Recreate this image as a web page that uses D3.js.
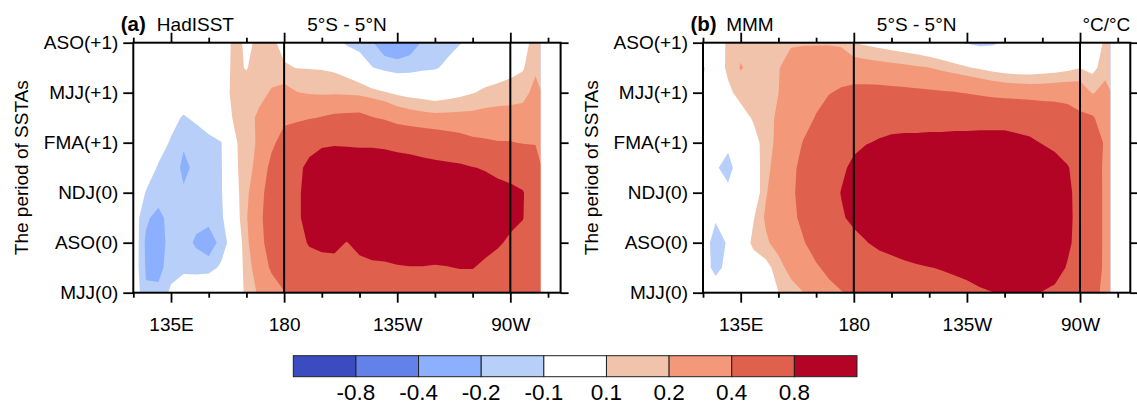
<!DOCTYPE html>
<html>
<head>
<meta charset="utf-8">
<script src="https://cdn.jsdelivr.net/npm/d3@7"></script>
<style>
	body { margin: 0; background: #fff; }
	text { font-family: "Liberation Sans", Arial, Helvetica, sans-serif; }
</style>
</head>
<body>
<svg width="1137" height="405"></svg>
<script>
// grid longitudes (degrees east) and months after MJJ(0) for each grid row (top row first)
const lons = [120, 125, 130, 135, 140, 145, 150, 155, 160, 165, 170, 175, 180, 185, 190, 195, 200,
	205, 210, 215, 220, 225, 230, 235, 240, 245, 250, 255, 260, 265, 270, 275, 280];
const months = [15, 13.5, 12, 10.5, 9, 7.5, 6, 4.5, 3, 1.5, 0];

const periodTicks = [0, 3, 6, 9, 12, 15];
const periodLabels = ['MJJ(0)', 'ASO(0)', 'NDJ(0)', 'FMA(+1)', 'MJJ(+1)', 'ASO(+1)'];
const lonTicks = [135, 180, 225, 270];
const lonLabels = ['135E', '180', '135W', '90W'];
const lonMinor = [120, 150, 165, 195, 210, 240, 255, 285];

const levels = [-0.8, -0.4, -0.2, -0.1, 0.1, 0.2, 0.4, 0.8];
const colors = ['#3b4cc0', '#6282ea', '#8db0fe', '#b8d0f9', '#ffffff', '#f2c3ab', '#f4987a', '#de604d', '#b40426'];

// regression of SSTA onto the index, rows ASO(+1) -> MJJ(0)
const hadisst = [
	[0, 0, 0, 0, 0, 0, 0, 0.04, 0.12, 0.09, 0.11, 0.12, 0.07, 0.04, 0.02, 0, -0.05, -0.12, -0.16, -0.19, -0.28, -0.3, -0.26, -0.19, -0.16, -0.13, -0.105, -0.04, -0.01, 0.01, 0.03, 0.07, 0.13],
	[0, 0, 0, 0, 0, 0, 0, 0.05, 0.12, 0.095, 0.14, 0.16, 0.11, 0.098, 0.095, 0.092, 0.08, 0.05, 0, -0.095, -0.13, -0.15, -0.14, -0.12, -0.11, -0.08, -0.04, 0, 0.03, 0.05, 0.07, 0.09, 0.18],
	[0, 0, -0.01, -0.02, -0.03, -0.02, 0, 0.06, 0.12, 0.14, 0.17, 0.21, 0.25, 0.205, 0.19, 0.18, 0.183, 0.178, 0.167, 0.14, 0.11, 0.08, 0.06, 0.05, 0.03, 0.05, 0.07, 0.095, 0.12, 0.13, 0.14, 0.16, 0.24],
	[0, -0.01, -0.03, -0.07, -0.11, -0.08, -0.04, 0.03, 0.11, 0.16, 0.22, 0.3, 0.36, 0.367, 0.384, 0.41, 0.44, 0.45, 0.46, 0.41, 0.37, 0.3, 0.27, 0.25, 0.24, 0.24, 0.24, 0.24, 0.25, 0.26, 0.26, 0.26, 0.32],
	[0, -0.02, -0.06, -0.11, -0.19, -0.16, -0.13, -0.105, 0.08, 0.15, 0.22, 0.36, 0.48, 0.55, 0.69, 0.76, 0.77, 0.76, 0.75, 0.75, 0.73, 0.69, 0.66, 0.62, 0.59, 0.54, 0.5, 0.45, 0.43, 0.41, 0.41, 0.39, 0.39],
	[0, -0.05, -0.11, -0.15, -0.22, -0.18, -0.15, -0.11, 0.08, 0.14, 0.26, 0.46, 0.58, 0.72, 0.88, 0.95, 1.0, 1.0, 1.0, 1.0, 1.0, 0.98, 0.96, 0.93, 0.9, 0.88, 0.86, 0.81, 0.78, 0.74, 0.7, 0.62, 0.5],
	[-0.02, -0.105, -0.14, -0.15, -0.19, -0.16, -0.14, -0.11, 0.05, 0.17, 0.33, 0.5, 0.65, 0.74, 0.92, 1.0, 1.1, 1.1, 1.1, 1.1, 1.1, 1.1, 1.05, 1.05, 1.0, 1.0, 0.98, 0.95, 0.92, 0.88, 0.86, 0.82, 0.6],
	[-0.03, -0.18, -0.24, -0.15, -0.15, -0.16, -0.16, -0.12, 0.02, 0.19, 0.35, 0.52, 0.65, 0.74, 0.92, 1.0, 1.05, 1.05, 1.05, 1.05, 1.05, 1.05, 1.05, 1.05, 1.0, 1.0, 1.0, 0.98, 0.95, 0.9, 0.86, 0.81, 0.6],
	[-0.01, -0.22, -0.25, -0.16, -0.15, -0.22, -0.27, -0.16, -0.03, 0.17, 0.33, 0.5, 0.6, 0.72, 0.82, 0.85, 0.86, 0.79, 0.9, 0.92, 0.92, 0.95, 0.95, 0.97, 0.95, 0.95, 0.95, 0.95, 0.9, 0.83, 0.76, 0.7, 0.58],
	[-0.02, -0.21, -0.24, -0.14, -0.12, -0.13, -0.14, -0.08, 0, 0.14, 0.28, 0.43, 0.52, 0.62, 0.7, 0.72, 0.72, 0.7, 0.7, 0.75, 0.76, 0.78, 0.79, 0.79, 0.78, 0.79, 0.81, 0.81, 0.74, 0.7, 0.66, 0.62, 0.52],
	[0, -0.19, -0.17, -0.08, -0.04, -0.02, 0.03, 0.02, 0.03, 0.12, 0.22, 0.3, 0.39, 0.5, 0.55, 0.6, 0.62, 0.6, 0.6, 0.6, 0.6, 0.62, 0.62, 0.62, 0.62, 0.62, 0.63, 0.63, 0.6, 0.58, 0.56, 0.55, 0.5]
];

const mmm = [
	[0, 0.03, 0.12, 0.16, 0.15, 0.16, 0.18, 0.19, 0.19, 0.19, 0.19, 0.18, 0.098, 0.08, 0.06, 0.04, 0.02, 0, -0.03, -0.05, -0.08, -0.11, -0.13, -0.12, -0.09, -0.06, -0.03, -0.01, 0, 0.02, 0.04, 0.06, 0.11],
	[0.11, 0.04, 0.12, 0.21, 0.16, 0.17, 0.195, 0.24, 0.27, 0.28, 0.29, 0.29, 0.28, 0.26, 0.25, 0.24, 0.23, 0.215, 0.202, 0.17, 0.14, 0.11, 0.085, 0.06, 0.04, 0.03, 0.03, 0.04, 0.05, 0.07, 0.095, 0.07, 0.15],
	[0.09, 0.04, 0.08, 0.13, 0.15, 0.17, 0.199, 0.26, 0.31, 0.35, 0.39, 0.43, 0.46, 0.47, 0.47, 0.46, 0.45, 0.44, 0.43, 0.42, 0.41, 0.39, 0.36, 0.33, 0.31, 0.3, 0.29, 0.29, 0.3, 0.3, 0.29, 0.19, 0.25],
	[0, 0, 0.02, 0.06, 0.11, 0.16, 0.22, 0.28, 0.34, 0.41, 0.5, 0.58, 0.64, 0.68, 0.7, 0.72, 0.72, 0.72, 0.72, 0.72, 0.72, 0.72, 0.72, 0.72, 0.72, 0.7, 0.68, 0.62, 0.58, 0.52, 0.44, 0.42, 0.3],
	[0, -0.06, -0.08, 0, 0.06, 0.14, 0.24, 0.32, 0.41, 0.5, 0.59, 0.67, 0.74, 0.79, 0.82, 0.84, 0.85, 0.85, 0.86, 0.86, 0.87, 0.87, 0.88, 0.88, 0.88, 0.86, 0.84, 0.79, 0.74, 0.66, 0.56, 0.5, 0.38],
	[0, -0.09, -0.13, -0.05, 0.03, 0.16, 0.27, 0.36, 0.45, 0.55, 0.65, 0.75, 0.86, 0.92, 0.96, 0.98, 1.0, 1.0, 1.0, 1.02, 1.02, 1.02, 1.02, 1.02, 1.02, 1.0, 0.98, 0.95, 0.9, 0.82, 0.68, 0.55, 0.35],
	[0, -0.04, -0.08, -0.03, 0, 0.19, 0.28, 0.37, 0.46, 0.57, 0.68, 0.81, 0.9, 0.95, 1.0, 1.02, 1.05, 1.05, 1.05, 1.05, 1.05, 1.05, 1.05, 1.05, 1.05, 1.05, 1.02, 1.0, 0.95, 0.86, 0.7, 0.56, 0.35],
	[0, -0.09, -0.04, -0.01, 0.09, 0.22, 0.29, 0.36, 0.44, 0.55, 0.66, 0.77, 0.86, 0.92, 0.97, 1.0, 1.02, 1.04, 1.04, 1.04, 1.04, 1.04, 1.04, 1.04, 1.04, 1.04, 1.04, 1.02, 0.97, 0.87, 0.7, 0.56, 0.35],
	[-0.05, -0.14, -0.09, 0, 0.13, 0.18, 0.25, 0.32, 0.39, 0.47, 0.56, 0.64, 0.72, 0.79, 0.86, 0.9, 0.94, 0.97, 1.0, 1.0, 1.0, 1.0, 1.0, 1.0, 1.02, 1.02, 1.02, 1.0, 0.95, 0.85, 0.7, 0.56, 0.35],
	[-0.05, -0.13, -0.07, -0.02, 0.02, 0.06, 0.15, 0.25, 0.32, 0.38, 0.44, 0.5, 0.56, 0.61, 0.66, 0.7, 0.74, 0.77, 0.795, 0.81, 0.83, 0.86, 0.9, 0.94, 0.96, 0.97, 0.97, 0.95, 0.9, 0.78, 0.66, 0.55, 0.35],
	[-0.02, -0.04, -0.02, 0, 0.02, 0.05, 0.098, 0.14, 0.199, 0.28, 0.35, 0.39, 0.44, 0.5, 0.55, 0.6, 0.64, 0.68, 0.7, 0.72, 0.73, 0.74, 0.77, 0.795, 0.82, 0.84, 0.82, 0.79, 0.75, 0.68, 0.6, 0.5, 0.32]
];

const panels = [
	{tag: 'a', name: 'HadISST', left: 133.3, gap: 11, values: hadisst, unit: ''},
	{tag: 'b', name: 'MMM', left: 703, gap: 9.5, values: mmm, unit: '\u00b0C/\u00b0C'}
];

const svg = d3.select('svg'),
	plotTop = 42.7,
	plotBottom = 292.7,
	plotWidth = 427.3,
	lonEnd = 290,
	dataEdge = 282, // ocean ends at the American coast
	font = 19;

const y = d3.scaleLinear().domain([0, 15]).range([plotBottom, plotTop]);

// grid index -> data coordinates (sample k sits at contour coordinate k + 0.5)
const lonAt = d3.scaleLinear().domain([0, lons.length - 1]).range([lons[0], lons[lons.length - 1]]);
const monthAt = d3.scaleLinear().domain([0, months.length - 1]).range([months[0], months[months.length - 1]]);

const contours = d3.contours().size([lons.length, months.length]).thresholds(levels);

function styleAxis(g) {
	g.select('.domain').remove();
	g.attr('font-size', font).attr('font-family', '"Liberation Sans", Arial, sans-serif');
	g.selectAll('.tick line').attr('stroke', '#000').attr('stroke-width', 1.8);
	g.selectAll('.tick text').attr('fill', '#000');
}

panels.forEach(function (p) {
	const x = d3.scaleLinear().domain([lons[0], lonEnd]).range([p.left, p.left + plotWidth]);
	const g = svg.append('g').attr('class', 'panel-' + p.tag);

	const project = d3.geoTransform({
		point: function (cx, cy) {
			this.stream.point(x(lonAt(cx - 0.5)), y(monthAt(cy - 0.5)));
		}
	});
	const path = d3.geoPath(project);

	const clipId = 'clip-' + p.tag;
	g.append('clipPath').attr('id', clipId)
		.append('rect')
		.attr('x', x(lons[0]))
		.attr('y', plotTop)
		.attr('width', x(dataEdge) - x(lons[0]))
		.attr('height', plotBottom - plotTop);

	g.append('g')
		.attr('clip-path', `url(#${clipId})`)
		.selectAll('path')
		.data(contours(p.values.flat()))
		.enter().append('path')
		.attr('d', path)
		.attr('fill', function (d, i) { return colors[i + 1]; });

	// reference longitudes
	g.append('g').selectAll('line')
		.data([180, 270])
		.enter().append('line')
		.attr('x1', function (d) { return x(d); })
		.attr('x2', function (d) { return x(d); })
		.attr('y1', plotTop)
		.attr('y2', plotBottom)
		.attr('stroke', '#000')
		.attr('stroke-width', 2);

	// axes
	g.append('g').attr('transform', `translate(0,${plotBottom})`)
		.call(d3.axisBottom(x).tickValues(lonTicks).tickSize(10).tickPadding(15)
			.tickFormat(function (d, i) { return lonLabels[i]; }))
		.call(styleAxis);
	g.append('g').attr('transform', `translate(0,${plotBottom})`)
		.call(d3.axisBottom(x).tickValues(lonMinor).tickSize(5).tickFormat(''))
		.call(styleAxis);
	g.append('g').attr('transform', `translate(0,${plotTop})`)
		.call(d3.axisTop(x).tickValues(lonTicks).tickSize(10).tickFormat(''))
		.call(styleAxis);
	g.append('g').attr('transform', `translate(0,${plotTop})`)
		.call(d3.axisTop(x).tickValues(lonMinor).tickSize(5).tickFormat(''))
		.call(styleAxis);
	g.append('g').attr('transform', `translate(${p.left},0)`)
		.call(d3.axisLeft(y).tickValues(periodTicks).tickSize(10).tickPadding(5)
			.tickFormat(function (d, i) { return periodLabels[i]; }))
		.call(styleAxis);
	g.append('g').attr('transform', `translate(${p.left + plotWidth},0)`)
		.call(d3.axisRight(y).tickValues(periodTicks).tickSize(8).tickFormat(''))
		.call(styleAxis);

	g.append('rect')
		.attr('x', p.left)
		.attr('y', plotTop)
		.attr('width', plotWidth)
		.attr('height', plotBottom - plotTop)
		.attr('fill', 'none')
		.attr('stroke', '#000')
		.attr('stroke-width', 2);

	// titles
	const title = g.append('text')
		.attr('x', p.left - 12.5)
		.attr('y', 31)
		.attr('font-size', font);
	title.append('tspan').attr('font-weight', 'bold').attr('font-size', 20.5).text(`(${p.tag})`);
	title.append('tspan').attr('dx', p.gap).text(p.name);

	g.append('text')
		.attr('x', p.left + plotWidth / 2)
		.attr('y', 31)
		.attr('text-anchor', 'middle')
		.attr('font-size', font)
		.text('5\u00b0S - 5\u00b0N');

	if (p.unit) {
		g.append('text')
			.attr('x', p.left + plotWidth)
			.attr('y', 31)
			.attr('text-anchor', 'end')
			.attr('font-size', font)
			.text(p.unit);
	}

	g.append('text')
		.attr('transform', `translate(${p.left - 112},${(plotTop + plotBottom) / 2}) rotate(-90)`)
		.attr('text-anchor', 'middle')
		.attr('dy', '0.35em')
		.attr('font-size', font)
		.text('The period of SSTAs');
});

// colour bar
const bar = d3.scaleLinear().domain([0, colors.length]).range([293.3, 857]);
const barTop = 355.7, barHeight = 21;
const cb = svg.append('g').attr('class', 'colorbar');

cb.selectAll('rect')
	.data(colors)
	.enter().append('rect')
	.attr('x', function (d, i) { return bar(i); })
	.attr('y', barTop)
	.attr('width', function (d, i) { return bar(i + 1) - bar(i); })
	.attr('height', barHeight)
	.attr('fill', function (d) { return d; })
	.attr('stroke', '#222')
	.attr('stroke-width', 1);

cb.selectAll('text')
	.data(levels)
	.enter().append('text')
	.attr('x', function (d, i) { return bar(i + 1); })
	.attr('y', 400)
	.attr('text-anchor', 'middle')
	.attr('font-size', 22.5)
	.text(function (d) { return d; });
</script>
</body>
</html>
